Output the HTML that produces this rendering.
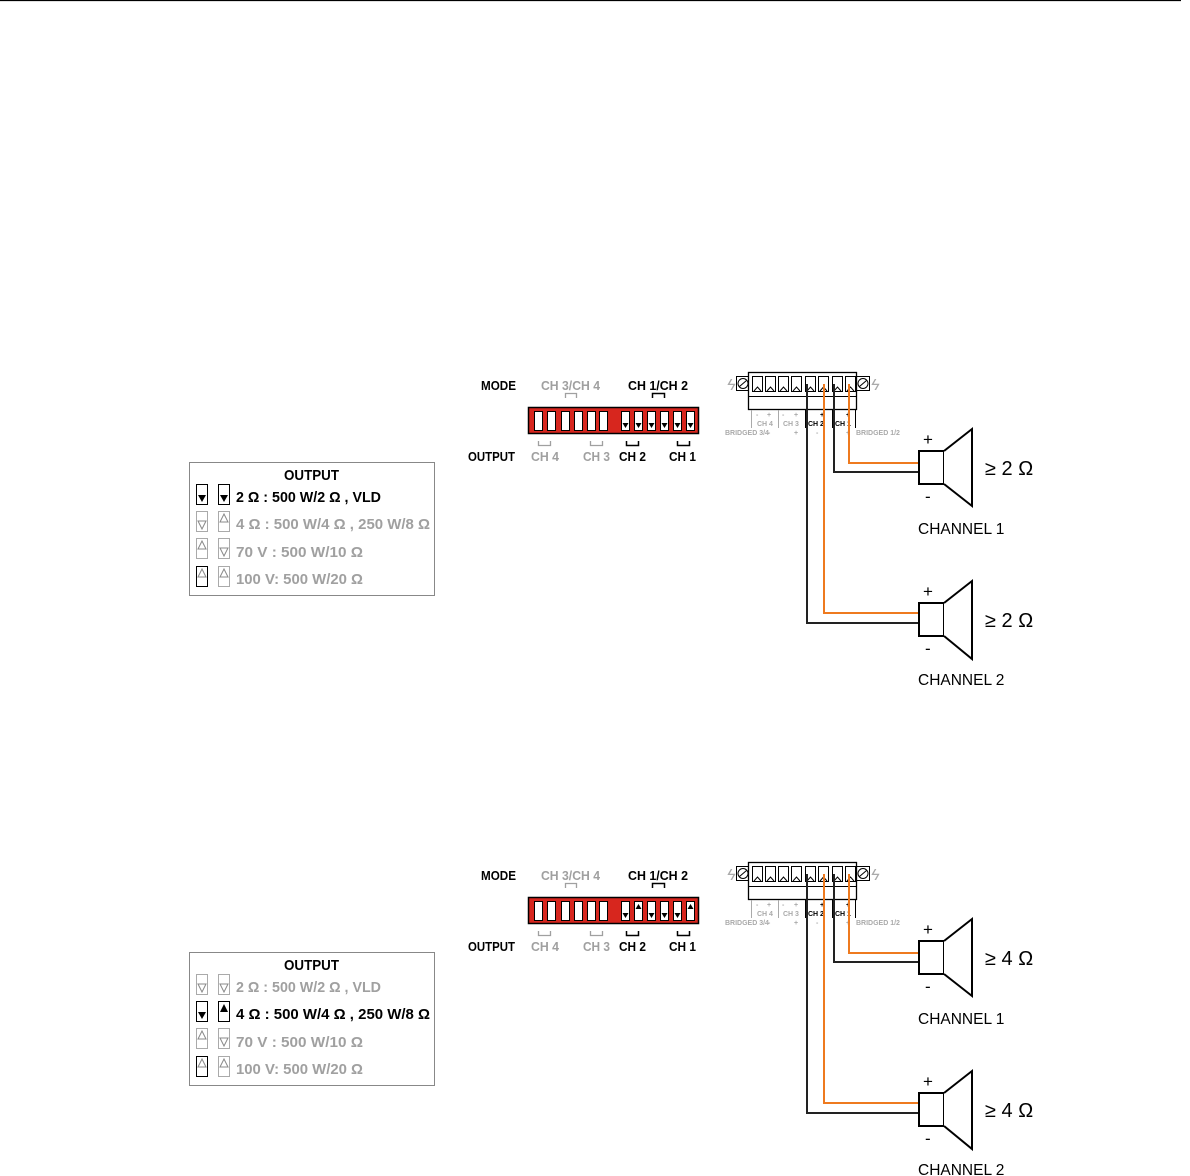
<!DOCTYPE html>
<html><head><meta charset="utf-8"><style>
html,body{margin:0;padding:0;background:#fff;}
svg{display:block;}
.n{font-family:"Liberation Sans Narrow","Liberation Sans",sans-serif;font-weight:bold;}
.a{font-family:"Liberation Sans",sans-serif;}
</style></head><body>
<svg width="1190" height="1176" viewBox="0 0 1190 1176" xmlns="http://www.w3.org/2000/svg">
<line x1="0" y1="0.5" x2="1181" y2="0.5" stroke="#000" stroke-width="1.2"/>

<!-- ============ SECTION 1 ============ -->
<g>
<!-- labels -->
<text class="n" x="481" y="390" font-size="13" textLength="35" lengthAdjust="spacingAndGlyphs">MODE</text>
<text class="n" x="541" y="390" font-size="13" fill="#a0a0a0" textLength="59" lengthAdjust="spacingAndGlyphs">CH 3/CH 4</text>
<text class="n" x="628" y="390" font-size="13" textLength="60" lengthAdjust="spacingAndGlyphs">CH 1/CH 2</text>
<path d="M565.5 398 V393.5 H576.5 V398" fill="none" stroke="#a0a0a0" stroke-width="1.3"/>
<path d="M652.5 398 V393.5 H664.5 V398" fill="none" stroke="#000" stroke-width="1.5"/>
<text class="n" x="468" y="461" font-size="13" textLength="47" lengthAdjust="spacingAndGlyphs">OUTPUT</text>
<text class="n" x="531" y="461" font-size="13" fill="#a0a0a0" textLength="28" lengthAdjust="spacingAndGlyphs">CH 4</text>
<text class="n" x="583" y="461" font-size="13" fill="#a0a0a0" textLength="27" lengthAdjust="spacingAndGlyphs">CH 3</text>
<text class="n" x="619" y="461" font-size="13" textLength="27" lengthAdjust="spacingAndGlyphs">CH 2</text>
<text class="n" x="669" y="461" font-size="13" textLength="27" lengthAdjust="spacingAndGlyphs">CH 1</text>
<path d="M538.5 441 V445.5 H550.5 V441" fill="none" stroke="#a0a0a0" stroke-width="1.3"/>
<path d="M590.5 441 V445.5 H602.5 V441" fill="none" stroke="#a0a0a0" stroke-width="1.3"/>
<path d="M626.5 441 V445.5 H638.5 V441" fill="none" stroke="#000" stroke-width="1.5"/>
<path d="M677.5 441 V445.5 H689.5 V441" fill="none" stroke="#000" stroke-width="1.5"/>
<!-- dip -->
<rect x="528.5" y="407.5" width="170" height="26" fill="#d7261e" stroke="#000" stroke-width="1.5"/>
<g fill="#fff" stroke="#000" stroke-width="1">
<rect x="534.5" y="411.5" width="8" height="19"/><rect x="547.5" y="411.5" width="8" height="19"/><rect x="561.5" y="411.5" width="8" height="19"/><rect x="574.5" y="411.5" width="8" height="19"/><rect x="587.5" y="411.5" width="8" height="19"/><rect x="599.5" y="411.5" width="8" height="19"/>
<rect x="621.5" y="411.5" width="8" height="19"/><rect x="634.5" y="411.5" width="8" height="19"/><rect x="647.5" y="411.5" width="8" height="19"/><rect x="660.5" y="411.5" width="8" height="19"/><rect x="673.5" y="411.5" width="8" height="19"/><rect x="686.5" y="411.5" width="8" height="19"/>
</g>
<g fill="#000">
<path d="M622.5 423 h6 l-3 5z"/><path d="M635.5 423 h6 l-3 5z"/><path d="M648.5 423 h6 l-3 5z"/><path d="M661.5 423 h6 l-3 5z"/><path d="M674.5 423 h6 l-3 5z"/><path d="M687.5 423 h6 l-3 5z"/>
</g>
<!-- terminal block -->
<text class="a" x="727" y="390" font-size="16" fill="#aaa" font-style="italic">ϟ</text>
<text class="a" x="871" y="390" font-size="16" fill="#aaa" font-style="italic">ϟ</text>
<rect x="736.5" y="376.5" width="13" height="14" fill="#fff" stroke="#000"/>
<circle cx="743" cy="383.5" r="5" fill="#fff" stroke="#000"/><line x1="739.5" y1="386.5" x2="746.5" y2="380.5" stroke="#000"/>
<rect x="856.5" y="376.5" width="13" height="14" fill="#fff" stroke="#000"/>
<circle cx="863" cy="383.5" r="5" fill="#fff" stroke="#000"/><line x1="859.5" y1="386.5" x2="866.5" y2="380.5" stroke="#000"/>
<rect x="748.5" y="372.5" width="108" height="37" fill="#fff" stroke="#000" stroke-width="1.3"/>
<line x1="748.5" y1="396.5" x2="856.5" y2="396.5" stroke="#000"/>
<g fill="#fff" stroke="#000">
<rect x="752.5" y="376.5" width="10" height="15"/><rect x="765.5" y="376.5" width="10" height="15"/><rect x="778.5" y="376.5" width="10" height="15"/><rect x="791.5" y="376.5" width="10" height="15"/><rect x="805.5" y="376.5" width="10" height="15"/><rect x="818.5" y="376.5" width="10" height="15"/><rect x="832.5" y="376.5" width="10" height="15"/><rect x="845.5" y="376.5" width="10" height="15"/>
</g>
<g fill="none" stroke="#000"><path d="M754 391 l3.5 -4 3.5 4"/><path d="M767 391 l3.5 -4 3.5 4"/><path d="M780 391 l3.5 -4 3.5 4"/><path d="M793 391 l3.5 -4 3.5 4"/><path d="M807 391 l3.5 -4 3.5 4"/><path d="M820 391 l3.5 -4 3.5 4"/><path d="M834 391 l3.5 -4 3.5 4"/><path d="M847 391 l3.5 -4 3.5 4"/></g>
<g stroke="#aaa"><line x1="751.5" y1="410" x2="751.5" y2="428"/><line x1="778.5" y1="410" x2="778.5" y2="428"/></g>
<g stroke="#000"><line x1="805.5" y1="410" x2="805.5" y2="428"/><line x1="832.5" y1="410" x2="832.5" y2="428"/><line x1="855.5" y1="410" x2="855.5" y2="428"/></g>
<g class="n" font-size="7" fill="#aaa">
<text x="756" y="417">-</text><text x="767" y="417">+</text><text x="782" y="417">-</text><text x="794" y="417">+</text>
<text x="757" y="426">CH 4</text><text x="783" y="426">CH 3</text>
<text x="725" y="435">BRIDGED 3/4</text><text x="768" y="435">-</text><text x="794" y="435">+</text>
<text x="856" y="435">BRIDGED 1/2</text><text x="816" y="435">-</text><text x="846" y="435">+</text>
</g>
<g class="n" font-size="7" fill="#000"><text x="808" y="426">CH 2</text><text x="835" y="426">CH 1</text><text x="820" y="417">+</text><text x="846" y="417">+</text></g>
<!-- wires -->
<g fill="none" stroke-width="2">
<path d="M849 384 V463 H919" stroke="#ee7a1f"/>
<path d="M834 384 V472 H919" stroke="#222"/>
<path d="M824 384 V613 H919" stroke="#ee7a1f"/>
<path d="M807 384 V623 H919" stroke="#222"/>
</g>
<!-- speakers -->
<g fill="#fff" stroke="#000" stroke-width="2">
<rect x="919" y="451" width="25" height="33"/><path d="M944 451 L972 429 V506 L944 484"/>
<rect x="919" y="603" width="25" height="33"/><path d="M944 603 L972 581 V659 L944 636"/>
</g>
<g class="a" font-size="17"><text x="923" y="445">+</text><text x="925" y="502">-</text><text x="923" y="597">+</text><text x="925" y="654">-</text></g>
<g class="a" font-size="20"><text x="985" y="475">≥ 2 Ω</text><text x="985" y="627">≥ 2 Ω</text></g>
<g class="a" font-size="15.5"><text x="918" y="534">CHANNEL 1</text><text x="918" y="685">CHANNEL 2</text></g>
<!-- output box -->
<rect x="189.5" y="462.5" width="245" height="133" fill="#fff" stroke="#888"/>
<text class="n" x="284" y="480" font-size="15" textLength="55" lengthAdjust="spacingAndGlyphs">OUTPUT</text>
<g fill="#fff" stroke-width="1">
<rect x="196.5" y="484.5" width="11" height="20" stroke="#000"/><rect x="218.5" y="484.5" width="11" height="20" stroke="#000"/>
<rect x="196.5" y="511.5" width="11" height="20" stroke="#aaa"/><rect x="218.5" y="511.5" width="11" height="20" stroke="#aaa"/>
<rect x="196.5" y="538.5" width="11" height="20" stroke="#aaa"/><rect x="218.5" y="538.5" width="11" height="20" stroke="#aaa"/>
<rect x="196.5" y="566.5" width="11" height="20" stroke="#000"/><rect x="218.5" y="566.5" width="11" height="20" stroke="#aaa"/>
</g>
<path d="M198 495 h8 l-4 7z M220 495 h8 l-4 7z" fill="#000"/>
<g fill="none" stroke="#888"><path d="M198 521 h8 l-4 8z"/><path d="M220 522 h8 l-4 -8z"/><path d="M198 549 h8 l-4 -8z"/><path d="M220 548 h8 l-4 8z"/><path d="M198 577 h8 l-4 -8z"/><path d="M220 577 h8 l-4 -8z"/></g>
<g class="n" font-size="15">
<text x="236" y="502" textLength="145" lengthAdjust="spacingAndGlyphs">2 Ω : 500 W/2 Ω , VLD</text>
<text x="236" y="529" fill="#a0a0a0" textLength="194" lengthAdjust="spacingAndGlyphs">4 Ω : 500 W/4 Ω , 250 W/8 Ω</text>
<text x="236" y="557" fill="#a0a0a0" textLength="127" lengthAdjust="spacingAndGlyphs">70 V  : 500 W/10 Ω</text>
<text x="236" y="584" fill="#a0a0a0" textLength="127" lengthAdjust="spacingAndGlyphs">100 V: 500 W/20 Ω</text>
</g>
</g>

<!-- ============ SECTION 2 ============ -->
<g transform="translate(0,490)">
<text class="n" x="481" y="390" font-size="13" textLength="35" lengthAdjust="spacingAndGlyphs">MODE</text>
<text class="n" x="541" y="390" font-size="13" fill="#a0a0a0" textLength="59" lengthAdjust="spacingAndGlyphs">CH 3/CH 4</text>
<text class="n" x="628" y="390" font-size="13" textLength="60" lengthAdjust="spacingAndGlyphs">CH 1/CH 2</text>
<path d="M565.5 398 V393.5 H576.5 V398" fill="none" stroke="#a0a0a0" stroke-width="1.3"/>
<path d="M652.5 398 V393.5 H664.5 V398" fill="none" stroke="#000" stroke-width="1.5"/>
<text class="n" x="468" y="461" font-size="13" textLength="47" lengthAdjust="spacingAndGlyphs">OUTPUT</text>
<text class="n" x="531" y="461" font-size="13" fill="#a0a0a0" textLength="28" lengthAdjust="spacingAndGlyphs">CH 4</text>
<text class="n" x="583" y="461" font-size="13" fill="#a0a0a0" textLength="27" lengthAdjust="spacingAndGlyphs">CH 3</text>
<text class="n" x="619" y="461" font-size="13" textLength="27" lengthAdjust="spacingAndGlyphs">CH 2</text>
<text class="n" x="669" y="461" font-size="13" textLength="27" lengthAdjust="spacingAndGlyphs">CH 1</text>
<path d="M538.5 441 V445.5 H550.5 V441" fill="none" stroke="#a0a0a0" stroke-width="1.3"/>
<path d="M590.5 441 V445.5 H602.5 V441" fill="none" stroke="#a0a0a0" stroke-width="1.3"/>
<path d="M626.5 441 V445.5 H638.5 V441" fill="none" stroke="#000" stroke-width="1.5"/>
<path d="M677.5 441 V445.5 H689.5 V441" fill="none" stroke="#000" stroke-width="1.5"/>
<rect x="528.5" y="407.5" width="170" height="26" fill="#d7261e" stroke="#000" stroke-width="1.5"/>
<g fill="#fff" stroke="#000" stroke-width="1">
<rect x="534.5" y="411.5" width="8" height="19"/><rect x="547.5" y="411.5" width="8" height="19"/><rect x="561.5" y="411.5" width="8" height="19"/><rect x="574.5" y="411.5" width="8" height="19"/><rect x="587.5" y="411.5" width="8" height="19"/><rect x="599.5" y="411.5" width="8" height="19"/>
<rect x="621.5" y="411.5" width="8" height="19"/><rect x="634.5" y="411.5" width="8" height="19"/><rect x="647.5" y="411.5" width="8" height="19"/><rect x="660.5" y="411.5" width="8" height="19"/><rect x="673.5" y="411.5" width="8" height="19"/><rect x="686.5" y="411.5" width="8" height="19"/>
</g>
<g fill="#000">
<path d="M622.5 423 h6 l-3 5z"/><path d="M635.5 419 h6 l-3 -5z"/><path d="M648.5 423 h6 l-3 5z"/><path d="M661.5 423 h6 l-3 5z"/><path d="M674.5 423 h6 l-3 5z"/><path d="M687.5 419 h6 l-3 -5z"/>
</g>
<text class="a" x="727" y="390" font-size="16" fill="#aaa" font-style="italic">ϟ</text>
<text class="a" x="871" y="390" font-size="16" fill="#aaa" font-style="italic">ϟ</text>
<rect x="736.5" y="376.5" width="13" height="14" fill="#fff" stroke="#000"/>
<circle cx="743" cy="383.5" r="5" fill="#fff" stroke="#000"/><line x1="739.5" y1="386.5" x2="746.5" y2="380.5" stroke="#000"/>
<rect x="856.5" y="376.5" width="13" height="14" fill="#fff" stroke="#000"/>
<circle cx="863" cy="383.5" r="5" fill="#fff" stroke="#000"/><line x1="859.5" y1="386.5" x2="866.5" y2="380.5" stroke="#000"/>
<rect x="748.5" y="372.5" width="108" height="37" fill="#fff" stroke="#000" stroke-width="1.3"/>
<line x1="748.5" y1="396.5" x2="856.5" y2="396.5" stroke="#000"/>
<g fill="#fff" stroke="#000">
<rect x="752.5" y="376.5" width="10" height="15"/><rect x="765.5" y="376.5" width="10" height="15"/><rect x="778.5" y="376.5" width="10" height="15"/><rect x="791.5" y="376.5" width="10" height="15"/><rect x="805.5" y="376.5" width="10" height="15"/><rect x="818.5" y="376.5" width="10" height="15"/><rect x="832.5" y="376.5" width="10" height="15"/><rect x="845.5" y="376.5" width="10" height="15"/>
</g>
<g fill="none" stroke="#000"><path d="M754 391 l3.5 -4 3.5 4"/><path d="M767 391 l3.5 -4 3.5 4"/><path d="M780 391 l3.5 -4 3.5 4"/><path d="M793 391 l3.5 -4 3.5 4"/><path d="M807 391 l3.5 -4 3.5 4"/><path d="M820 391 l3.5 -4 3.5 4"/><path d="M834 391 l3.5 -4 3.5 4"/><path d="M847 391 l3.5 -4 3.5 4"/></g>
<g stroke="#aaa"><line x1="751.5" y1="410" x2="751.5" y2="428"/><line x1="778.5" y1="410" x2="778.5" y2="428"/></g>
<g stroke="#000"><line x1="805.5" y1="410" x2="805.5" y2="428"/><line x1="832.5" y1="410" x2="832.5" y2="428"/><line x1="855.5" y1="410" x2="855.5" y2="428"/></g>
<g class="n" font-size="7" fill="#aaa">
<text x="756" y="417">-</text><text x="767" y="417">+</text><text x="782" y="417">-</text><text x="794" y="417">+</text>
<text x="757" y="426">CH 4</text><text x="783" y="426">CH 3</text>
<text x="725" y="435">BRIDGED 3/4</text><text x="768" y="435">-</text><text x="794" y="435">+</text>
<text x="856" y="435">BRIDGED 1/2</text><text x="816" y="435">-</text><text x="846" y="435">+</text>
</g>
<g class="n" font-size="7" fill="#000"><text x="808" y="426">CH 2</text><text x="835" y="426">CH 1</text><text x="820" y="417">+</text><text x="846" y="417">+</text></g>
<g fill="none" stroke-width="2">
<path d="M849 384 V463 H919" stroke="#ee7a1f"/>
<path d="M834 384 V472 H919" stroke="#222"/>
<path d="M824 384 V613 H919" stroke="#ee7a1f"/>
<path d="M807 384 V623 H919" stroke="#222"/>
</g>
<g fill="#fff" stroke="#000" stroke-width="2">
<rect x="919" y="451" width="25" height="33"/><path d="M944 451 L972 429 V506 L944 484"/>
<rect x="919" y="603" width="25" height="33"/><path d="M944 603 L972 581 V659 L944 636"/>
</g>
<g class="a" font-size="17"><text x="923" y="445">+</text><text x="925" y="502">-</text><text x="923" y="597">+</text><text x="925" y="654">-</text></g>
<g class="a" font-size="20"><text x="985" y="475">≥ 4 Ω</text><text x="985" y="627">≥ 4 Ω</text></g>
<g class="a" font-size="15.5"><text x="918" y="534">CHANNEL 1</text><text x="918" y="685">CHANNEL 2</text></g>
<rect x="189.5" y="462.5" width="245" height="133" fill="#fff" stroke="#888"/>
<text class="n" x="284" y="480" font-size="15" textLength="55" lengthAdjust="spacingAndGlyphs">OUTPUT</text>
<g fill="#fff" stroke-width="1">
<rect x="196.5" y="484.5" width="11" height="20" stroke="#aaa"/><rect x="218.5" y="484.5" width="11" height="20" stroke="#aaa"/>
<rect x="196.5" y="511.5" width="11" height="20" stroke="#000"/><rect x="218.5" y="511.5" width="11" height="20" stroke="#000"/>
<rect x="196.5" y="538.5" width="11" height="20" stroke="#aaa"/><rect x="218.5" y="538.5" width="11" height="20" stroke="#aaa"/>
<rect x="196.5" y="566.5" width="11" height="20" stroke="#000"/><rect x="218.5" y="566.5" width="11" height="20" stroke="#aaa"/>
</g>
<path d="M198 522 h8 l-4 7z M220 522 h8 l-4 -8z" fill="#000"/>
<g fill="none" stroke="#888"><path d="M198 494 h8 l-4 8z"/><path d="M220 494 h8 l-4 8z"/><path d="M198 549 h8 l-4 -8z"/><path d="M220 548 h8 l-4 8z"/><path d="M198 577 h8 l-4 -8z"/><path d="M220 577 h8 l-4 -8z"/></g>
<g class="n" font-size="15">
<text x="236" y="502" fill="#a0a0a0" textLength="145" lengthAdjust="spacingAndGlyphs">2 Ω : 500 W/2 Ω , VLD</text>
<text x="236" y="529" textLength="194" lengthAdjust="spacingAndGlyphs">4 Ω : 500 W/4 Ω , 250 W/8 Ω</text>
<text x="236" y="557" fill="#a0a0a0" textLength="127" lengthAdjust="spacingAndGlyphs">70 V  : 500 W/10 Ω</text>
<text x="236" y="584" fill="#a0a0a0" textLength="127" lengthAdjust="spacingAndGlyphs">100 V: 500 W/20 Ω</text>
</g>
</g>
</svg>
</body></html>
